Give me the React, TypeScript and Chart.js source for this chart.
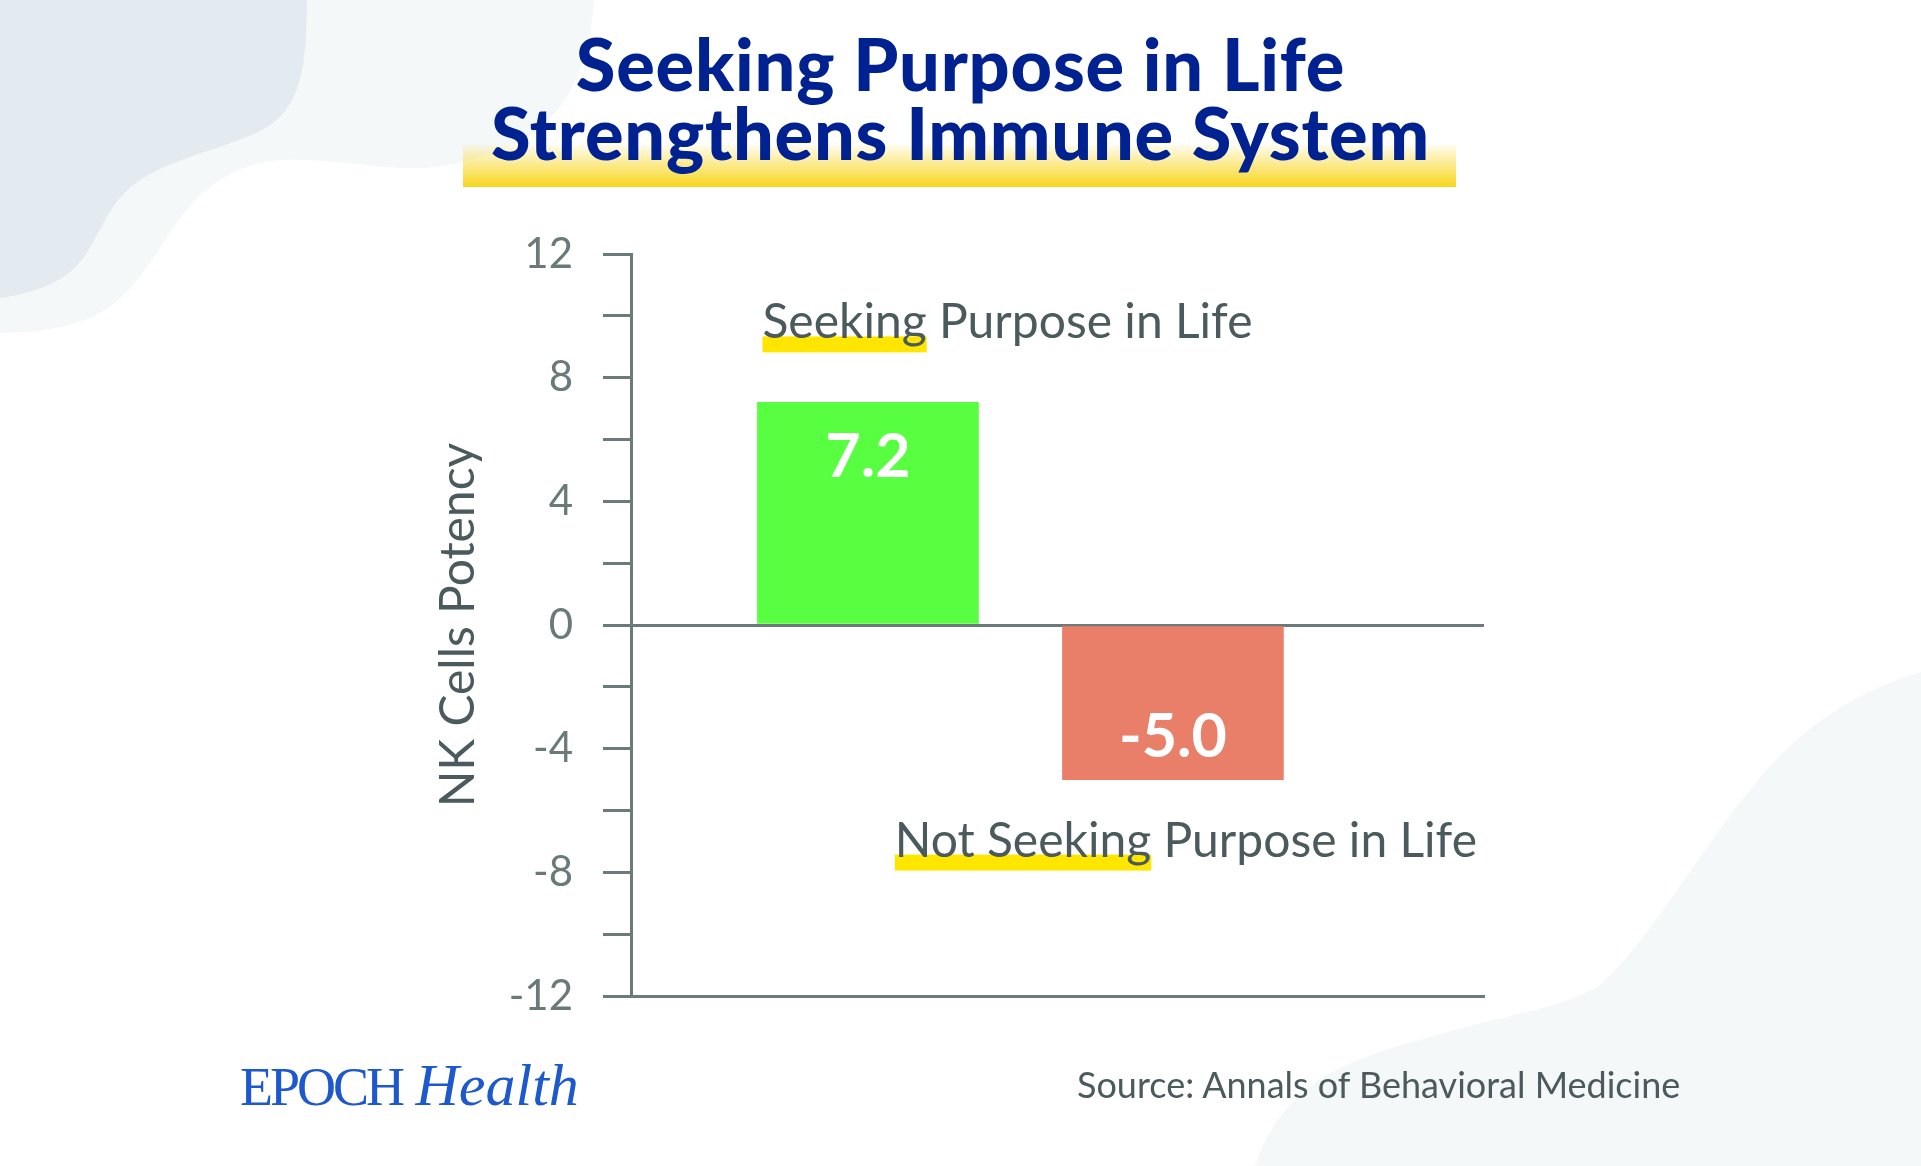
import React, { useEffect, useRef } from 'react';
import { Chart, registerables } from 'chart.js';

Chart.register(...registerables);

const categories = ['Seeking Purpose in Life', 'Not Seeking Purpose in Life'];
const highlightWords = ['Seeking', 'Not Seeking'];
const values = [7.2, -5.0];
const valueLabels = ['7.2', '-5.0'];
const barColors = ['#58fe40', '#ea7f69'];
const yMin = -12;
const yMax = 12;
const yStep = 2;
const yLabelEvery = 4;
const titleLines = ['Seeking Purpose in Life', 'Strengthens Immune System'];
const yAxisTitle = 'NK Cells Potency';
const sourceText = 'Source: Annals of Behavioral Medicine';

const AXIS = '#6b7b7b';
const TEXT = '#4b5a5c';

const labelPlugin = {
  id: 'barLabels',
  afterDatasetsDraw(chart: any) {
    const ctx = chart.ctx;
    const meta = chart.getDatasetMeta(0);
    meta.data.forEach((bar: any, i: number) => {
      const { x, y, width } = bar.getProps(['x', 'y', 'width'], true);
      const positive = values[i] >= 0;
      ctx.save();
      ctx.font = '700 61px Lato';
      ctx.fillStyle = '#ffffff';
      ctx.textAlign = 'center';
      ctx.textBaseline = 'alphabetic';
      ctx.fillText(valueLabels[i], x, positive ? y + 75 : y - 23);

      ctx.font = '400 48px Lato';
      const full = categories[i];
      const hw = ctx.measureText(highlightWords[i]).width;
      const tw = ctx.measureText(full).width;
      let left: number;
      let baseline: number;
      if (positive) {
        left = x - width / 2 + 5;
        baseline = y - 64;
      } else {
        left = chart.chartArea.right - 7 - tw;
        baseline = y + 77;
      }
      ctx.fillStyle = '#ffe600';
      ctx.fillRect(left, baseline - 2, hw, 16);
      ctx.fillStyle = TEXT;
      ctx.textAlign = 'left';
      ctx.fillText(full, left, baseline);
      ctx.restore();
    });
  },
};

function ChartCanvas() {
  const ref = useRef<HTMLCanvasElement | null>(null);
  useEffect(() => {
    if (!ref.current) return;
    const chart = new Chart(ref.current, {
      type: 'bar',
      data: {
        datasets: [
          {
            data: values.map((v, i) => ({ x: i, y: v })),
            backgroundColor: barColors,
            borderWidth: 0,
            barThickness: 221,
          },
        ],
      },
      options: {
        animation: false,
        responsive: false,
        devicePixelRatio: 1,
        layout: { padding: { left: 430, top: 254, right: 437, bottom: 170 } },
        plugins: { legend: { display: false }, tooltip: { enabled: false } },
        scales: {
          x: {
            type: 'linear',
            offset: false,
            min: -0.777,
            max: 2.02,
            ticks: { display: false },
            grid: { display: false, offset: false },
            border: { display: true, color: AXIS, width: 3 },
            afterFit: (s: any) => {
              s.height = 0;
            },
          },
          y: {
            min: yMin,
            max: yMax,
            ticks: {
              stepSize: yStep,
              padding: 30,
              color: '#6b7979',
              font: { family: 'Lato', size: 42 },
              callback: (v: any) => (Number(v) % yLabelEvery === 0 ? String(v) : ''),
            },
            grid: {
              display: true,
              drawOnChartArea: true,
              color: (c: any) => (c.tick && c.tick.value === 0 ? AXIS : 'rgba(0,0,0,0)'),
              lineWidth: 3,
              tickColor: AXIS,
              tickLength: 28,
              tickWidth: 3,
            },
            border: { display: true, color: AXIS, width: 3 },
            title: {
              display: true,
              text: yAxisTitle,
              color: TEXT,
              font: { family: 'Lato', size: 48 },
              padding: 0,
            },
            afterFit: (s: any) => {
              s.width = 201;
            },
          },
        },
      },
      plugins: [labelPlugin],
    } as any);
    return () => chart.destroy();
  }, []);
  return (
    <canvas
      ref={ref}
      width={1921}
      height={1166}
      style={{ position: 'absolute', left: 0, top: 0, width: 1921, height: 1166 }}
    />
  );
}

export default function App() {
  return (
    <div
      style={{
        position: 'fixed',
        left: 0,
        top: 0,
        width: 1921,
        height: 1166,
        overflow: 'hidden',
        background: '#ffffff',
      }}
    >
      <svg width={1921} height={1166} style={{ position: 'absolute', left: 0, top: 0 }}>
        <path
          d="M0 0 H594 C590 60 570 110 530 135 C 490 160 440 170 400 168 C 360 165 320 158 280 160 C 230 165 200 190 175 225 C 150 262 130 300 90 318 C 60 330 30 333 0 333 Z"
          fill="#f5f8f9"
        />
        <path
          d="M0 0 H307 C307 70 300 110 262 130 C 220 152 150 160 118 200 C 95 230 90 265 55 282 C 35 292 15 296 0 298 Z"
          fill="#e3ebf0"
        />
        <path
          d="M1921 672 C 1860 690 1800 725 1750 790 C 1700 850 1650 940 1600 985 C 1560 1010 1500 1015 1420 1040 C 1340 1060 1280 1090 1255 1166 L1921 1166 Z"
          fill="#f5f8f9"
        />
      </svg>
      <div
        style={{
          position: 'absolute',
          left: 463,
          top: 145,
          width: 993,
          height: 42,
          background: 'linear-gradient(to bottom, rgba(249,214,30,0.08), #f9d61e)',
        }}
      />
      {titleLines.map((t, i) => (
        <div
          key={i}
          style={{
            position: 'absolute',
            left: 0,
            width: 1921,
            top: 28.6 + i * 69,
            textAlign: 'center',
            fontFamily: 'Lato',
            fontWeight: 900,
            fontSize: 72,
            lineHeight: '69px',
            letterSpacing: '0.8px',
            color: '#002190',
            whiteSpace: 'nowrap',
          }}
        >
          {t}
        </div>
      ))}
      <ChartCanvas />
      <div
        style={{
          position: 'absolute',
          left: 240,
          top: 1058,
          fontSize: 54,
          lineHeight: '54px',
          color: '#1d58cc',
          fontFamily: '"Liberation Serif", serif',
          whiteSpace: 'nowrap',
        }}
      >
        <span style={{ letterSpacing: '-3px' }}>EPOCH</span>
        <span> </span>
        <span style={{ fontStyle: 'italic', fontSize: 60 }}>Health</span>
      </div>
      <div
        style={{
          position: 'absolute',
          left: 1077,
          top: 1066,
          fontSize: 36,
          lineHeight: '36px',
          color: TEXT,
          fontFamily: 'Lato',
          whiteSpace: 'nowrap',
        }}
      >
        {sourceText}
      </div>
    </div>
  );
}
